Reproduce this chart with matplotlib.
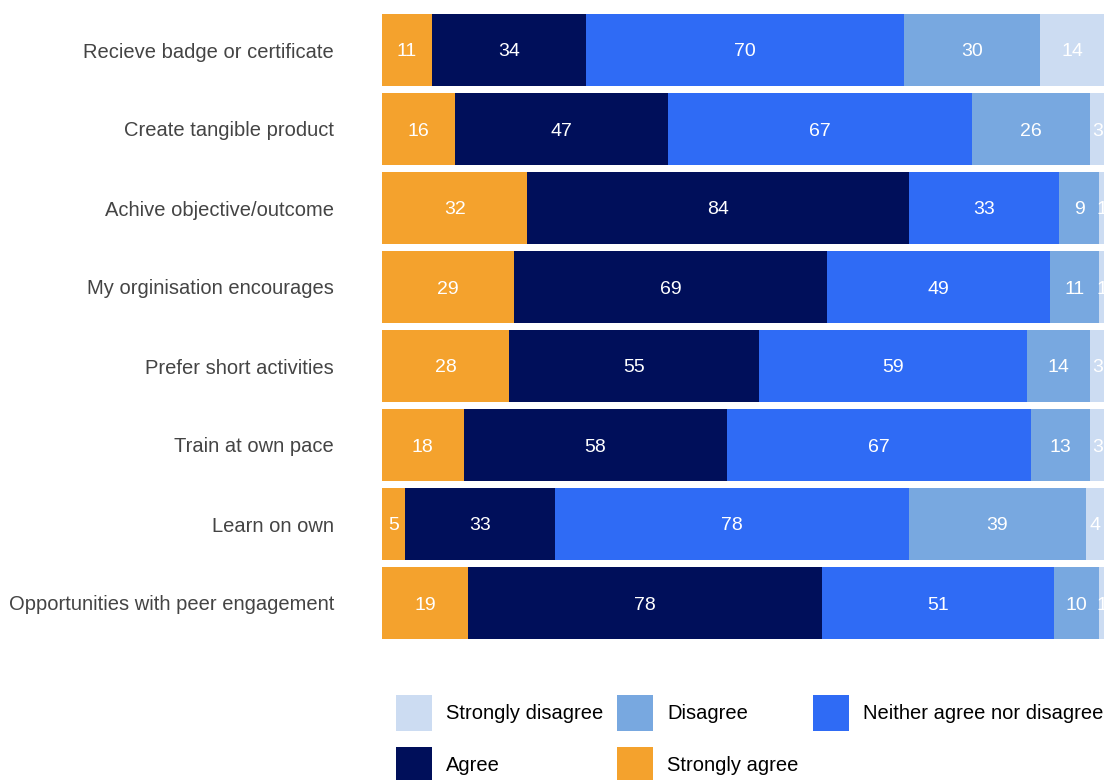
import matplotlib.pyplot as plt
import numpy as np

plt.rcParams['font.family'] = ['Liberation Sans', 'DejaVu Sans']

# statements, top to bottom
statements = ['Recieve badge or certificate', 'Create tangible product',
              'Achive objective/outcome', 'My orginisation encourages',
              'Prefer short activities', 'Train at own pace',
              'Learn on own', 'Opportunities with peer engagement']

strongly_agree = [11, 16, 32, 29, 28, 18, 5, 19]
agree = [34, 47, 84, 69, 55, 58, 33, 78]
neither = [70, 67, 33, 49, 59, 67, 78, 51]
disagree = [30, 26, 9, 11, 14, 13, 39, 10]
strongly_disagree = [14, 3, 1, 1, 3, 3, 4, 1]

series = [('Strongly agree', strongly_agree, '#F4A22D'),
          ('Agree', agree, '#000F5A'),
          ('Neither agree nor disagree', neither, '#2F6BF5'),
          ('Disagree', disagree, '#78A8E0'),
          ('Strongly disagree', strongly_disagree, '#CCDCF2')]

fig = plt.figure(figsize=(11.05, 7.8), dpi=100)
ax = fig.add_axes([382 / 1105, 1 - 642.5 / 780, 722 / 1105, 632 / 780])

y = np.arange(len(statements))
left = np.zeros(len(statements))
bars = {}
for name, vals, col in series:
    vals = np.array(vals)
    bars[name] = ax.barh(y, vals, left=left, height=0.91, color=col, label=name)
    for yi, l, v in zip(y, left, vals):
        ax.text(l + v / 2, yi, str(v), ha='center', va='center_baseline',
                color='white', fontsize=14, clip_on=False)
    left += vals

ax.set_xlim(0, left.max())
ax.set_ylim(len(statements) - 0.5, -0.5)
ax.set_yticks(y)
ax.set_yticklabels(statements, fontsize=14.5, color='#444444')
ax.tick_params(axis='y', length=0, pad=34.5)
ax.set_xticks([])
for s in ax.spines.values():
    s.set_visible(False)

order = ['Strongly disagree', 'Agree', 'Disagree', 'Strongly agree',
         'Neither agree nor disagree']
fig.legend([bars[k] for k in order], order, ncol=3, frameon=False,
           loc='upper left', bbox_to_anchor=(396 / 1105, 1 - 695 / 780),
           borderpad=0, borderaxespad=0,
           fontsize=14.5, handlelength=1.79, handleheight=2.37,
           handletextpad=0.69, columnspacing=0.7, labelspacing=0.8)

fig.savefig('out.png', dpi=100)
